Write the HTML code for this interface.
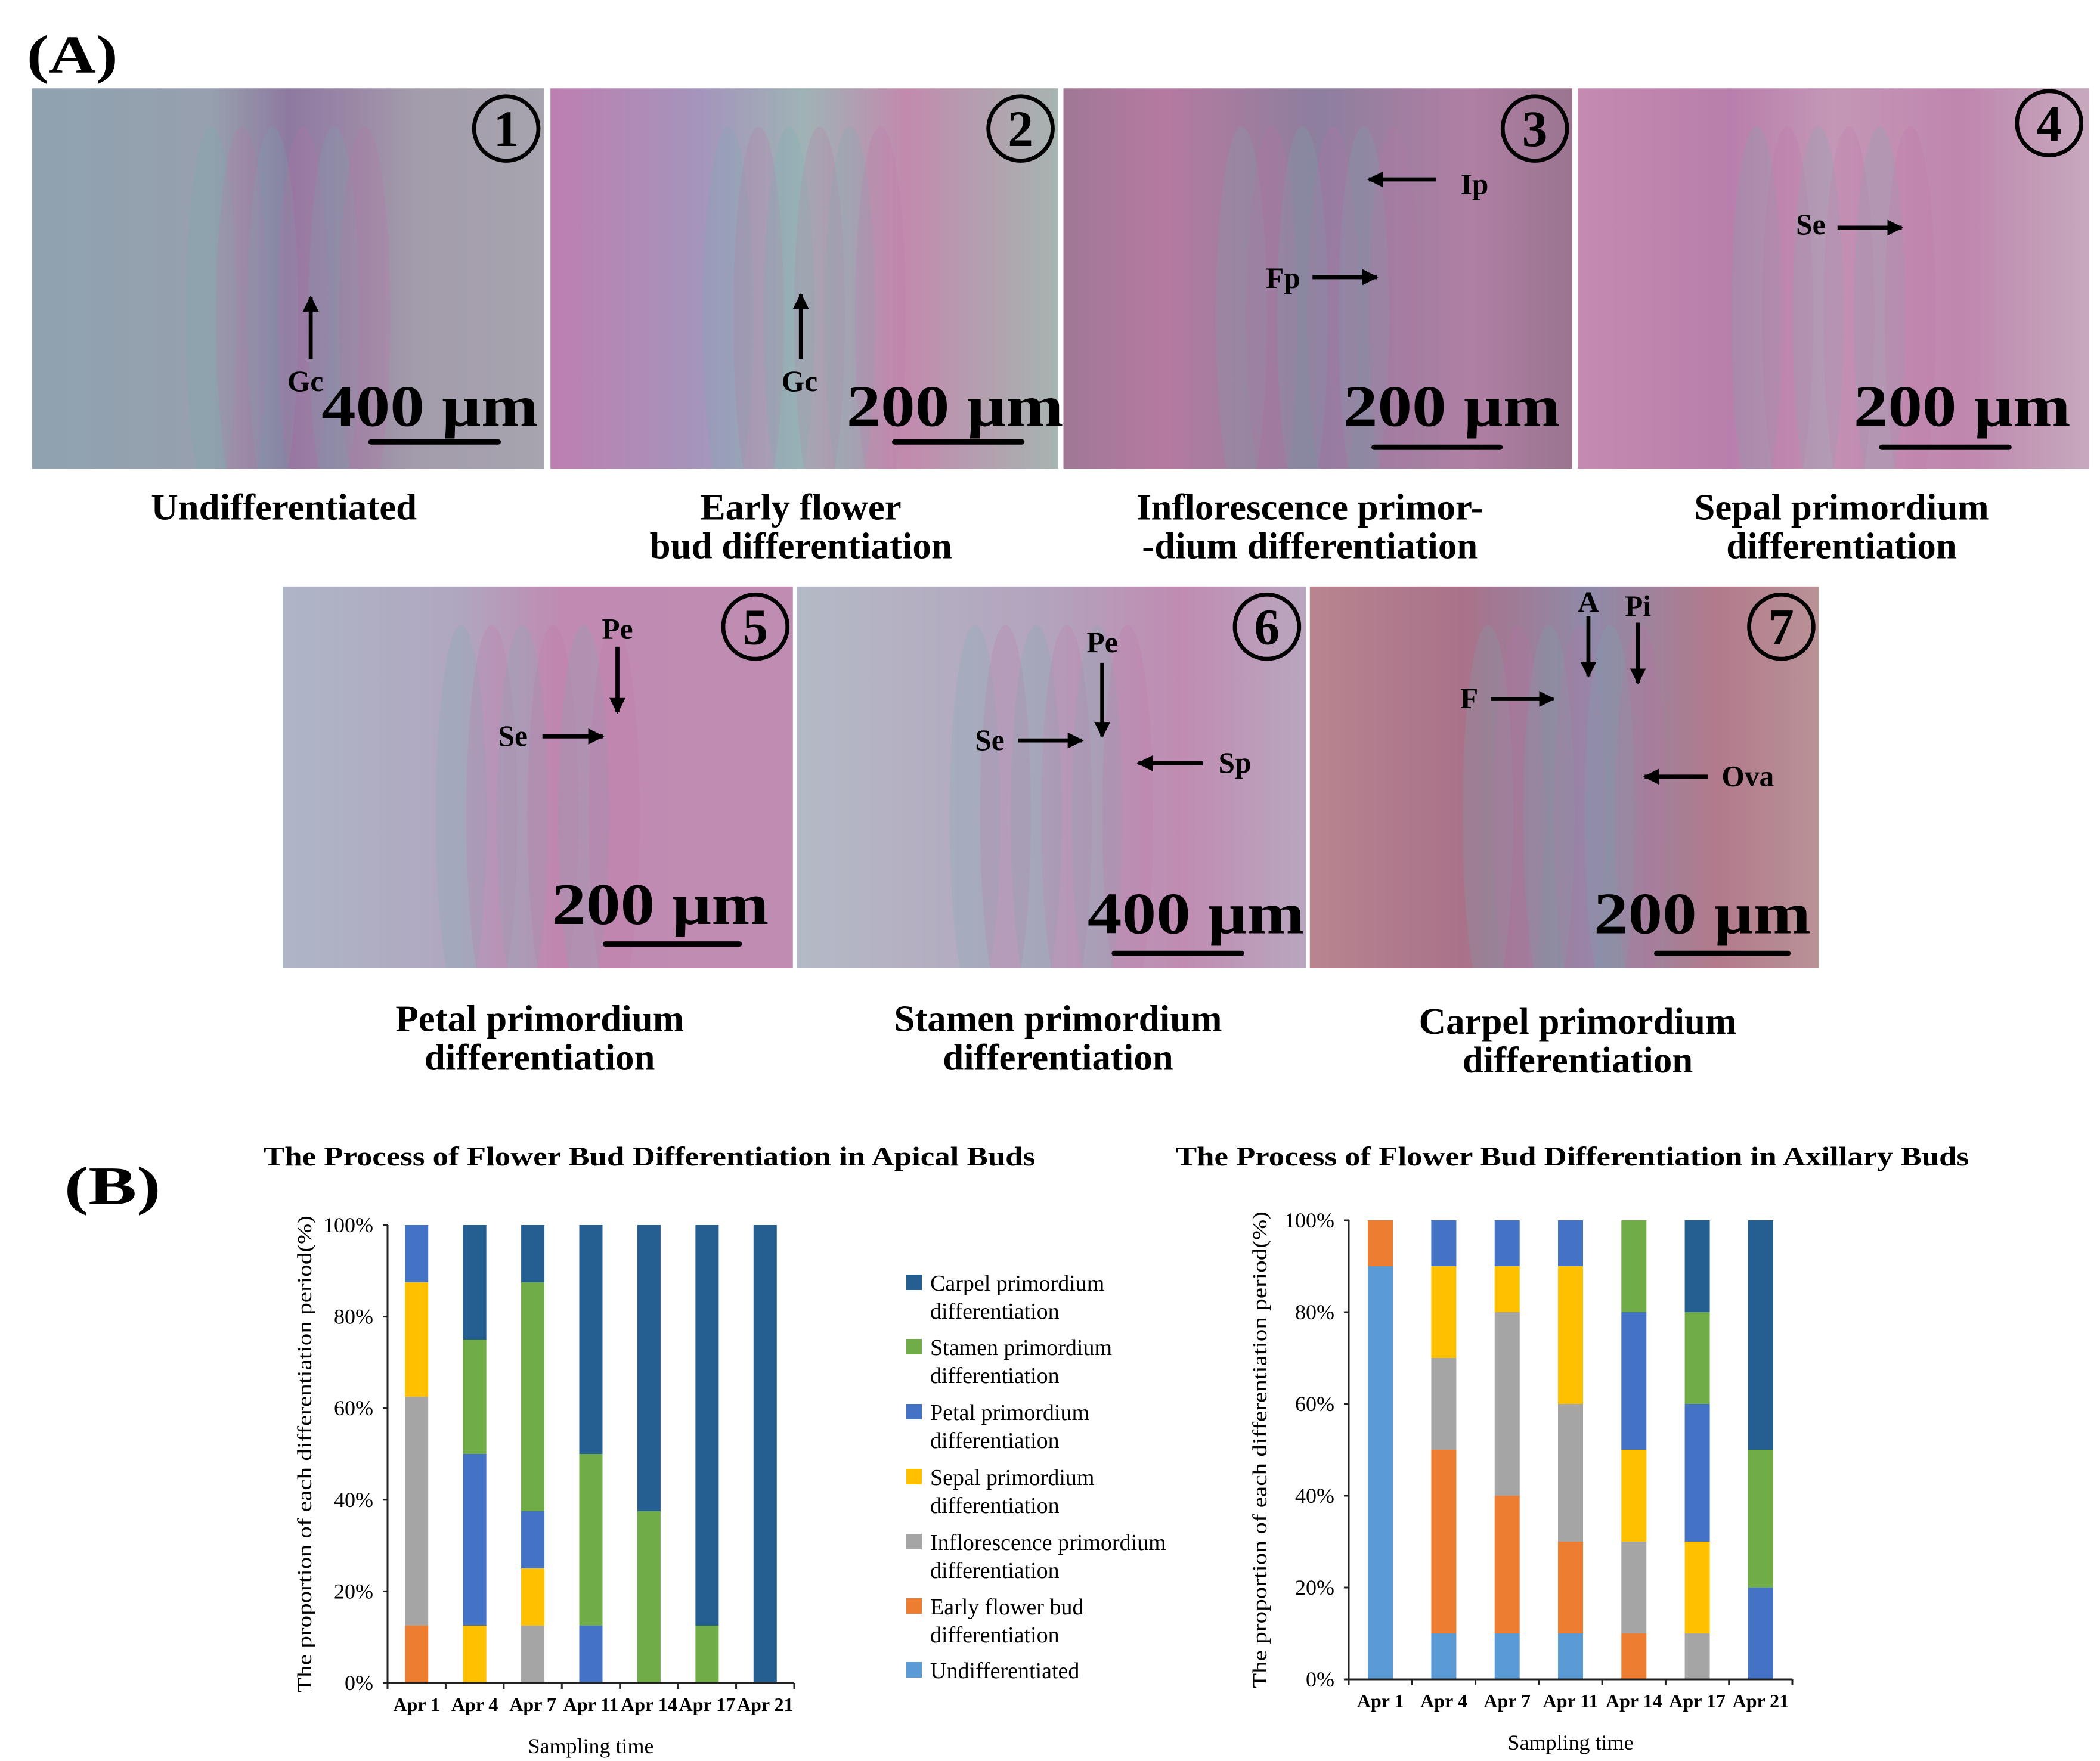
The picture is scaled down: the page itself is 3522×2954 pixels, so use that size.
<!DOCTYPE html>
<html><head><meta charset="utf-8"><style>html,body{margin:0;padding:0;background:#fff}svg{display:block}</style></head>
<body>
<svg id="fig" xmlns="http://www.w3.org/2000/svg" width="3522" height="2954" viewBox="0 0 3522 2954" font-family="'Liberation Serif', serif">
<defs id="defs">
<linearGradient id="g1" x1="0" x2="1" y1="0" y2="0"><stop offset="0" stop-color="#8fa2b0"/><stop offset="0.35" stop-color="#97a0ae"/><stop offset="0.5" stop-color="#8e7aa0"/><stop offset="0.62" stop-color="#9a86a6"/><stop offset="0.75" stop-color="#a39cab"/><stop offset="1" stop-color="#a7a4ae"/></linearGradient>
<linearGradient id="g2" x1="0" x2="1" y1="0" y2="0"><stop offset="0" stop-color="#bd7fb0"/><stop offset="0.3" stop-color="#a495bc"/><stop offset="0.5" stop-color="#9fb3b5"/><stop offset="0.7" stop-color="#c28aae"/><stop offset="1" stop-color="#a6b4b0"/></linearGradient>
<linearGradient id="g3" x1="0" x2="1" y1="0" y2="0"><stop offset="0" stop-color="#a07896"/><stop offset="0.2" stop-color="#b57aa0"/><stop offset="0.5" stop-color="#8d7f9e"/><stop offset="0.8" stop-color="#b07fa4"/><stop offset="1" stop-color="#9a7590"/></linearGradient>
<linearGradient id="g4" x1="0" x2="1" y1="0" y2="0"><stop offset="0" stop-color="#c58ab0"/><stop offset="0.3" stop-color="#b87fac"/><stop offset="0.5" stop-color="#c497b6"/><stop offset="0.75" stop-color="#bf86ae"/><stop offset="1" stop-color="#c6a9bd"/></linearGradient>
<linearGradient id="g5" x1="0" x2="1" y1="0" y2="0"><stop offset="0" stop-color="#aeb6c6"/><stop offset="0.35" stop-color="#b0a6c0"/><stop offset="0.55" stop-color="#c08ab2"/><stop offset="1" stop-color="#bf8db2"/></linearGradient>
<linearGradient id="g6" x1="0" x2="1" y1="0" y2="0"><stop offset="0" stop-color="#b4bac6"/><stop offset="0.5" stop-color="#b3a3bd"/><stop offset="0.75" stop-color="#c08bb2"/><stop offset="1" stop-color="#b9a6be"/></linearGradient>
<linearGradient id="g7" x1="0" x2="1" y1="0" y2="0"><stop offset="0" stop-color="#b8858f"/><stop offset="0.3" stop-color="#a9728a"/><stop offset="0.55" stop-color="#8f8aa8"/><stop offset="0.8" stop-color="#b27a8c"/><stop offset="1" stop-color="#b99296"/></linearGradient>
<marker id="ah" viewBox="0 0 10 10" refX="9" refY="5" markerWidth="4" markerHeight="4" orient="auto"><path d="M0,0 L10,5 L0,10 z" fill="#000"/></marker>
</defs>
<g id="partA" transform="scale(2.2462)"></g>
<g id="partB"></g>
</svg>
<script>
const NS='http://www.w3.org/2000/svg';
function mk(parent,tag,attrs,text){const e=document.createElementNS(NS,tag);for(const k in attrs)e.setAttribute(k,attrs[k]);if(text!==undefined)e.textContent=text;parent.appendChild(e);return e;}
const A=document.getElementById('partA');
const B=document.getElementById('partB');
const D=document.getElementById('defs');

// ---------- Part A (overview units) ----------
let la=mk(A,'text',{x:20,y:54,'font-size':40,'font-weight':'bold',textLength:68,lengthAdjust:'spacingAndGlyphs'},'(A)');



const panels=[
 {x:24,y:66,w:382,h:284,g:'g1',nx:378,ny:96,scale:'400 µm',sx:240,sy:318,bx1:277,bx2:372,by:330,
  arrows:[[232,268,232,222]],labels:[['Gc',228,292]]},
 {x:411,y:66,w:379,h:284,g:'g2',nx:762,ny:96,scale:'200 µm',sx:632,sy:318,bx1:668,bx2:763,by:330,
  arrows:[[598,268,598,220]],labels:[['Gc',597,292]]},
 {x:794,y:66,w:380,h:284,g:'g3',nx:1146,ny:96,scale:'200 µm',sx:1003,sy:318,bx1:1026,bx2:1120,by:334,
  arrows:[[1072,134,1022,134],[980,207,1028,207]],labels:[['Ip',1101,145],['Fp',958,215]]},
 {x:1178,y:66,w:382,h:284,g:'g4',nx:1530,ny:92,scale:'200 µm',sx:1384,sy:318,bx1:1405,bx2:1500,by:334,
  arrows:[[1372,170,1420,170]],labels:[['Se',1352,175]]},
 {x:211,y:438,w:381,h:285,g:'g5',nx:564,ny:468,scale:'200 µm',sx:412,sy:690,bx1:452,bx2:552,by:705,
  arrows:[[461,483,461,532],[405,550,450,550]],labels:[['Pe',461,477],['Se',383,557]]},
 {x:595,y:438,w:380,h:285,g:'g6',nx:946,ny:468,scale:'400 µm',sx:812,sy:697,bx1:832,bx2:927,by:712,
  arrows:[[823,495,823,550],[760,553,808,553],[898,570,850,570]],labels:[['Pe',823,487],['Se',739,560],['Sp',922,577]]},
 {x:978,y:438,w:380,h:285,g:'g7',nx:1330,ny:468,scale:'200 µm',sx:1190,sy:697,bx1:1237,bx2:1335,by:712,
  arrows:[[1186,460,1186,505],[1223,465,1223,510],[1113,522,1160,522],[1275,580,1228,580]],labels:[['A',1186,457],['Pi',1223,460],['F',1097,529],['Ova',1305,587]]}
];
panels.forEach((p,i)=>{
  const cp=mk(D,'clipPath',{id:'cp'+i});
  mk(cp,'rect',{x:p.x,y:p.y,width:p.w,height:p.h});
  const g=mk(A,'g',{});
  
  
  mk(g,'rect',{x:p.x,y:p.y,width:p.w,height:p.h,fill:'url(#'+p.g+')'});
  const tg=mk(g,'g',{'clip-path':'url(#cp'+i+')'});
  for(let k=0;k<6;k++){
    mk(tg,'ellipse',{cx:p.x+p.w*(0.35+0.06*k),cy:p.y+p.h*0.6,rx:p.w*0.05,ry:p.h*0.5,fill:k%2?'#c06fa8':'#6fb0b0',opacity:0.18});
  }
  mk(g,'circle',{cx:p.nx,cy:p.ny,r:24,fill:'none',stroke:'#000','stroke-width':3});
  const num=mk(g,'text',{x:p.nx,y:p.ny+13,'font-size':38,'font-weight':'bold','text-anchor':'middle'},String(i+1));
  
  
  const st=mk(g,'text',{x:p.sx,y:p.sy,'font-size':44,'font-weight':'bold',textLength:162,lengthAdjust:'spacingAndGlyphs'},p.scale);
  
  
  const sb=mk(g,'line',{x1:p.bx1,x2:p.bx2,y1:p.by,y2:p.by,stroke:'#000','stroke-width':4,'stroke-linecap':'round'});
  
  
  p.arrows.forEach(a=>{
    const ar=mk(g,'line',{x1:a[0],y1:a[1],x2:a[2],y2:a[3],stroke:'#000','stroke-width':3,'marker-end':'url(#ah)'});
    
    
  });
  p.labels.forEach(l=>{
    const t=mk(g,'text',{x:l[1],y:l[2],'font-size':22,'font-weight':'bold','text-anchor':'middle'},l[0]);
    
    
  });
});
const caps=[
 [212,['Undifferentiated'],388],
 [598,['Early  flower','bud differentiation'],388],
 [978,['Inflorescence primor-','-dium differentiation'],388],
 [1375,['Sepal primordium','differentiation'],388],
 [403,['Petal primordium','differentiation'],770],
 [790,['Stamen primordium','differentiation'],770],
 [1178,['Carpel primordium','differentiation'],772]
];
caps.forEach(c=>{
  c[1].forEach((s,j)=>{
    const t=mk(A,'text',{x:c[0],y:c[2]+j*29,'font-size':28,'font-weight':'bold','text-anchor':'middle'},s);
    
    
  });
});
let lb=mk(A,'text',{x:48,y:899,'font-size':40,'font-weight':'bold',textLength:72,lengthAdjust:'spacingAndGlyphs'},'(B)');



// ---------- Part B charts (data) ----------
const categories=['Apr 1','Apr 4','Apr 7','Apr 11','Apr 14','Apr 17','Apr 21'];
const stages=['Undifferentiated','Early flower bud differentiation','Inflorescence primordium differentiation','Sepal primordium differentiation','Petal primordium differentiation','Stamen primordium differentiation','Carpel primordium differentiation'];
const stageColors=['#5b9bd5','#ed7d31','#a5a5a5','#ffc000','#4472c4','#70ad47','#255e91'];
const yTicks=[0,20,40,60,80,100];
const yTickLabels=['0%','20%','40%','60%','80%','100%'];
// apical: per stage (bottom to top), values per date
const apicalUndiff=[0,0,0,0,0,0,0];
const apicalEarly=[12.5,0,0,0,0,0,0];
const apicalInflo=[50,0,12.5,0,0,0,0];
const apicalSepal=[25,12.5,12.5,0,0,0,0];
const apicalPetal=[12.5,37.5,12.5,12.5,0,0,0];
const apicalStamen=[0,25,50,37.5,37.5,12.5,0];
const apicalCarpel=[0,25,12.5,50,62.5,87.5,100];
// axillary
const axUndiff=[90,10,10,10,0,0,0];
const axEarly=[10,40,30,20,10,0,0];
const axInflo=[0,20,40,30,20,10,0];
const axSepal=[0,20,10,30,20,20,0];
const axPetal=[0,10,10,10,30,30,20];
const axStamen=[0,0,0,0,20,20,30];
const axCarpel=[0,0,0,0,0,20,50];

function chart(cfg,series,key){
  const g=mk(B,'g',{});
  
  
  const yScale=v=>cfg.yBot-(v/100)*(cfg.yBot-cfg.yTop);
  const step=(cfg.x1-cfg.x0)/categories.length;
  const xCenter=i=>cfg.x0+step*(i+0.5);
  const t=mk(g,'text',{x:cfg.tx,y:1955,'font-size':46,'font-weight':'bold',textLength:cfg.tw,lengthAdjust:'spacingAndGlyphs'},cfg.title);
  
  
  categories.forEach((c,i)=>{
    let y=0;
    series.forEach((s,k)=>{
      const v=s[i];
      if(v>0){
        const r=mk(g,'rect',{x:xCenter(i)-cfg.bw/2,y:yScale(y+v),width:cfg.bw,height:yScale(y)-yScale(y+v),fill:stageColors[k]});
        
        
      }
      y+=v;
    });
    const xl=mk(g,'text',{x:xCenter(i),y:cfg.yBot+47,'font-size':32,'font-weight':'bold','text-anchor':'middle'},c);
    
    
  });
  const ax=mk(g,'path',{d:`M${cfg.x0},${cfg.yTop} L${cfg.x0},${cfg.yBot} L${cfg.x1},${cfg.yBot}`,fill:'none',stroke:'#222','stroke-width':3});
  
  
  for(let i=0;i<=categories.length;i++){
    mk(g,'line',{x1:cfg.x0+step*i,x2:cfg.x0+step*i,y1:cfg.yBot,y2:cfg.yBot+10,stroke:'#222','stroke-width':3});
  }
  yTicks.forEach((v,i)=>{
    mk(g,'line',{x1:cfg.x0-8,x2:cfg.x0,y1:yScale(v),y2:yScale(v),stroke:'#222','stroke-width':3});
    const yl=mk(g,'text',{x:cfg.x0-24,y:yScale(v)+12,'font-size':36,'text-anchor':'end'},yTickLabels[i]);
    
    
  });
  const cy=(cfg.yTop+cfg.yBot)/2;
  const yt=mk(g,'text',{x:cfg.ytx,y:cy,'font-size':34,'text-anchor':'middle',transform:`rotate(-90 ${cfg.ytx} ${cy})`,textLength:800,lengthAdjust:'spacingAndGlyphs'},'The proportion of each differentiation period(%)');
  
  
  const xt=mk(g,'text',{x:(cfg.x0+cfg.x1)/2,y:cfg.yBot+118,'font-size':36,'text-anchor':'middle'},'Sampling time');
  
  
}
chart({x0:650,x1:1332,yTop:2055,yBot:2823,bw:39,tx:442,tw:1294,ytx:522,title:'The Process of Flower Bud Differentiation in Apical Buds'},
  [apicalUndiff,apicalEarly,apicalInflo,apicalSepal,apicalPetal,apicalStamen,apicalCarpel],'apical');
chart({x0:2262,x1:3006,yTop:2047,yBot:2817,bw:42,tx:1972,tw:1330,ytx:2124,title:'The Process of Flower Bud Differentiation in Axillary Buds'},
  [axUndiff,axEarly,axInflo,axSepal,axPetal,axStamen,axCarpel],'axillary');

// legend
const legendLines=[
 ['Carpel primordium','differentiation'],
 ['Stamen primordium','differentiation'],
 ['Petal primordium','differentiation'],
 ['Sepal primordium','differentiation'],
 ['Inflorescence primordium','differentiation'],
 ['Early  flower bud',' differentiation'],
 ['Undifferentiated']
];
const legendY=[2152,2260,2369,2478,2587,2695,2802];
const lg=mk(B,'g',{});


legendLines.forEach((ls,i)=>{
  const k=6-i;
  const e=mk(lg,'g',{});
  
  
  mk(e,'rect',{x:1520,y:legendY[i]-14,width:26,height:26,fill:stageColors[k]});
  ls.forEach((s,j)=>{
    mk(e,'text',{x:1560,y:legendY[i]+13+j*47,'font-size':38},s);
  });
});
</script>
</body></html>
